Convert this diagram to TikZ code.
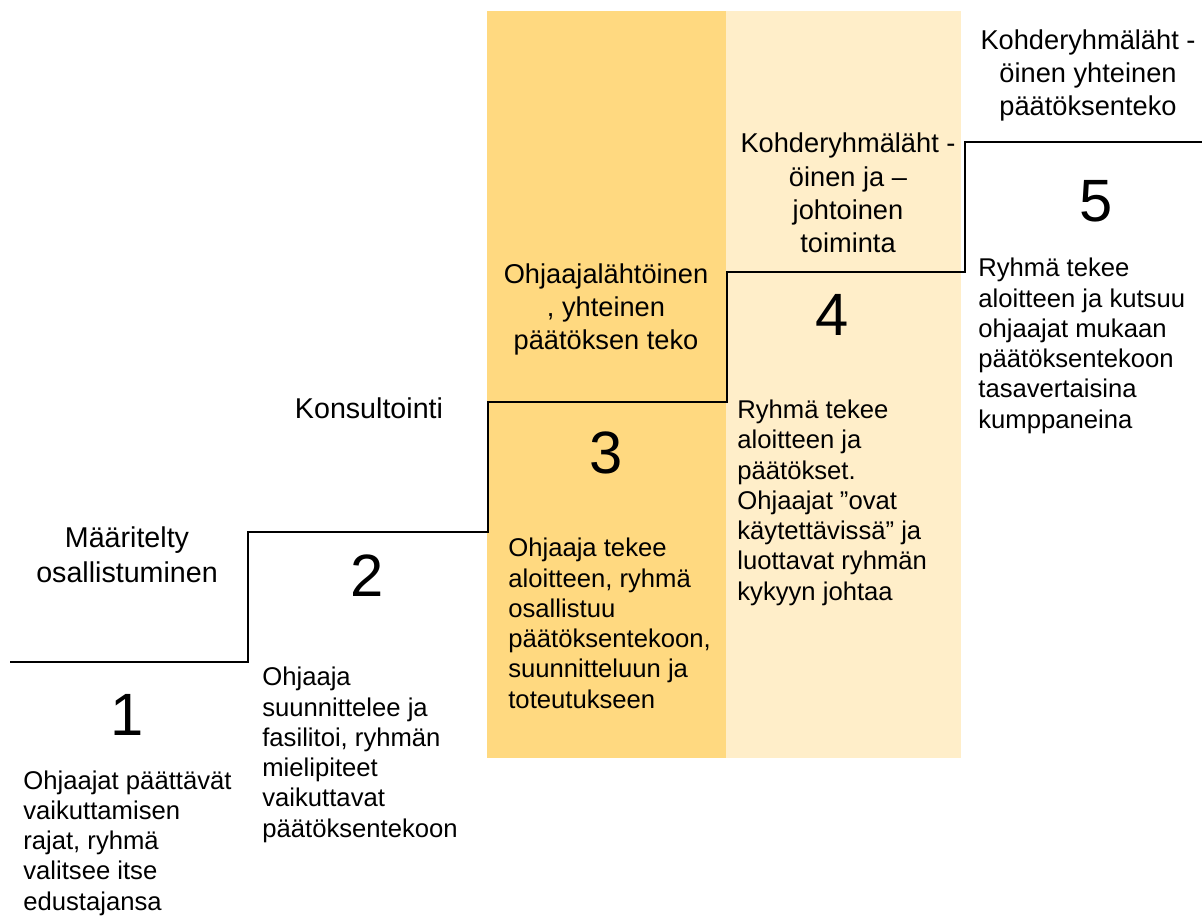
\documentclass[tikz,border=0pt]{standalone}
\usepackage{fontspec}
\setmainfont{Liberation Sans}
\definecolor{darkyel}{RGB}{255,217,128}
\definecolor{lightyel}{RGB}{255,238,201}
\tikzset{
  title/.style={align=center, anchor=base, inner sep=0pt, font=\fontsize{15.5}{19}\selectfont},
  bigtitle/.style={title, font=\fontsize{16.3}{19.8}\selectfont},
  body/.style={align=left, anchor=base west, inner sep=0pt, font=\fontsize{14.6}{17.2}\selectfont},
  num/.style={anchor=center, inner sep=0pt, font=\fontsize{34}{40}\selectfont},
  stair/.style={line width=1.5pt, line join=miter}
}
\begin{document}
\begin{tikzpicture}[x=0.02cm, y=-0.02cm]
\useasboundingbox (0,0) rectangle (1202,918);
\fill[darkyel] (487,11) rectangle (726,758);
\fill[lightyel] (726,11) rectangle (961,758);
\coordinate (s0) at (10,662);
\coordinate (s1) at (248,662);
\coordinate (s2) at (248,532);
\coordinate (s3) at (488,532);
\coordinate (s4) at (488,402);
\coordinate (s5) at (727,402);
\coordinate (s6) at (727,272);
\coordinate (s7) at (965,272);
\coordinate (s8) at (965,142);
\coordinate (s9) at (1202,142);
\draw[stair] (s0) -- (s1) -- (s2) -- (s3) -- (s4) -- (s5) -- (s6) -- (s7) -- (s8) -- (s9);

% titles (placed at the baseline of their last line)
\node[bigtitle] (t1) at (127,582) {Määritelty\\osallistuminen};
\node[bigtitle] (t2) at (369,418) {Konsultointi};
\node[title] (t3) at (606,350) {Ohjaajalähtöinen\\, yhteinen\\päätöksen teko};
\node[title] (t4) at (848,253) {Kohderyhmäläht -\\öinen ja –\\johtoinen\\toiminta};
\node[title] (t5) at (1088,116) {Kohderyhmäläht -\\öinen yhteinen\\päätöksenteko};

\node[num] (n1) at (127,715) {1};
\node[num] (n2) at (367,576) {2};
\node[num] (n3) at (606,453) {3};
\node[num] (n4) at (832,315) {4};
\node[num] (n5) at (1096,201) {5};

% body texts (placed at the baseline of their last line)
\node[body] (b1) at (23,910) {Ohjaajat päättävät\\vaikuttamisen\\rajat, ryhmä\\valitsee itse\\edustajansa};
\node[body] (b2) at (262,837) {Ohjaaja\\suunnittelee ja\\fasilitoi, ryhmän\\mielipiteet\\vaikuttavat\\päätöksentekoon};
\node[body] (b3) at (508,708) {Ohjaaja tekee\\aloitteen, ryhmä\\osallistuu\\päätöksentekoon,\\suunnitteluun ja\\toteutukseen};
\node[body] (b4) at (737,600) {Ryhmä tekee\\aloitteen ja\\päätökset.\\Ohjaajat ”ovat\\käytettävissä” ja\\luottavat ryhmän\\kykyyn johtaa};
\node[body] (b5) at (978,428) {Ryhmä tekee\\aloitteen ja kutsuu\\ohjaajat mukaan\\päätöksentekoon\\tasavertaisina\\kumppaneina};
\end{tikzpicture}
\end{document}
